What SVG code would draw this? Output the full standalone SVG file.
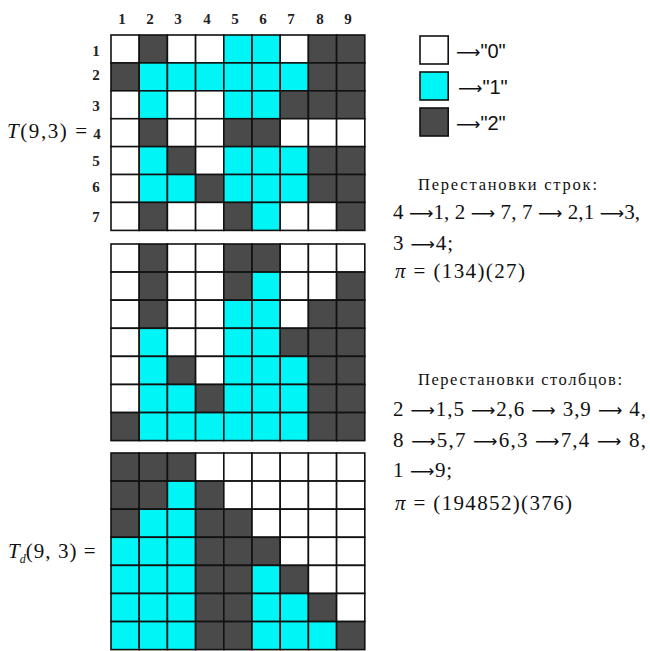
<svg xmlns="http://www.w3.org/2000/svg" width="650" height="651" viewBox="0 0 650 651">
<style>
rect.w,rect.c,rect.d{width:28.2px;height:28px;stroke:#111;stroke-width:1.6}
.w{fill:#fff}.c{fill:#00f6f6}.d{fill:#4a4a4a}
.lb{font-family:'Liberation Serif','Times New Roman','DejaVu Serif',serif;font-size:15px;font-weight:bold;fill:#222;text-anchor:middle}
.m{font-family:'Liberation Serif','Times New Roman','DejaVu Serif',serif;font-size:21px;fill:#111}
.h{font-family:'Liberation Serif','Times New Roman','DejaVu Serif',serif;font-size:16.5px;fill:#111}
.lg{font-family:'Liberation Sans',Arial,sans-serif;font-size:20px;fill:#111}
.ar{font-family:'DejaVu Sans',sans-serif;font-size:17px}
.box{stroke:#222;stroke-width:2}
</style>
<rect width="650" height="651" fill="#fff"/>
<g id="col-labels">
<text class="lb" x="122" y="24">1</text><text class="lb" x="150" y="24">2</text><text class="lb" x="178" y="24">3</text><text class="lb" x="207" y="24">4</text><text class="lb" x="235" y="24">5</text><text class="lb" x="263" y="24">6</text><text class="lb" x="291" y="24">7</text><text class="lb" x="320" y="24">8</text><text class="lb" x="348" y="24">9</text>
</g>
<g id="row-labels">
<text class="lb" x="96" y="56">1</text><text class="lb" x="96" y="80">2</text><text class="lb" x="96" y="111">3</text><text class="lb" x="97" y="139">4</text><text class="lb" x="96" y="166">5</text><text class="lb" x="96" y="192">6</text><text class="lb" x="96" y="222">7</text>
</g>
<text class="m" x="7" y="138" textLength="80" lengthAdjust="spacing"><tspan font-style="italic">T</tspan>(9,3) =</text>
<g id="grid1">
<g transform="translate(0,35)"><rect class="w" x="111"/><rect class="d" x="139.2"/><rect class="w" x="167.4"/><rect class="w" x="195.6"/><rect class="c" x="223.8"/><rect class="c" x="252"/><rect class="w" x="280.2"/><rect class="d" x="308.4"/><rect class="d" x="336.6"/></g>
<g transform="translate(0,62.9)"><rect class="d" x="111"/><rect class="c" x="139.2"/><rect class="c" x="167.4"/><rect class="c" x="195.6"/><rect class="c" x="223.8"/><rect class="c" x="252"/><rect class="c" x="280.2"/><rect class="d" x="308.4"/><rect class="d" x="336.6"/></g>
<g transform="translate(0,90.8)"><rect class="w" x="111"/><rect class="c" x="139.2"/><rect class="w" x="167.4"/><rect class="w" x="195.6"/><rect class="c" x="223.8"/><rect class="c" x="252"/><rect class="d" x="280.2"/><rect class="d" x="308.4"/><rect class="d" x="336.6"/></g>
<g transform="translate(0,118.7)"><rect class="w" x="111"/><rect class="d" x="139.2"/><rect class="w" x="167.4"/><rect class="w" x="195.6"/><rect class="d" x="223.8"/><rect class="d" x="252"/><rect class="w" x="280.2"/><rect class="w" x="308.4"/><rect class="w" x="336.6"/></g>
<g transform="translate(0,146.6)"><rect class="w" x="111"/><rect class="c" x="139.2"/><rect class="d" x="167.4"/><rect class="w" x="195.6"/><rect class="c" x="223.8"/><rect class="c" x="252"/><rect class="c" x="280.2"/><rect class="d" x="308.4"/><rect class="d" x="336.6"/></g>
<g transform="translate(0,174.5)"><rect class="w" x="111"/><rect class="c" x="139.2"/><rect class="c" x="167.4"/><rect class="d" x="195.6"/><rect class="c" x="223.8"/><rect class="c" x="252"/><rect class="c" x="280.2"/><rect class="d" x="308.4"/><rect class="d" x="336.6"/></g>
<g transform="translate(0,202.4)"><rect class="w" x="111"/><rect class="d" x="139.2"/><rect class="w" x="167.4"/><rect class="w" x="195.6"/><rect class="d" x="223.8"/><rect class="c" x="252"/><rect class="w" x="280.2"/><rect class="w" x="308.4"/><rect class="d" x="336.6"/></g>
</g>
<g id="grid2">
<g transform="translate(0,244)"><rect class="w" x="111"/><rect class="d" x="139.2"/><rect class="w" x="167.4"/><rect class="w" x="195.6"/><rect class="d" x="223.8"/><rect class="d" x="252"/><rect class="w" x="280.2"/><rect class="w" x="308.4"/><rect class="w" x="336.6"/></g>
<g transform="translate(0,272.1)"><rect class="w" x="111"/><rect class="d" x="139.2"/><rect class="w" x="167.4"/><rect class="w" x="195.6"/><rect class="d" x="223.8"/><rect class="c" x="252"/><rect class="w" x="280.2"/><rect class="w" x="308.4"/><rect class="d" x="336.6"/></g>
<g transform="translate(0,300.2)"><rect class="w" x="111"/><rect class="d" x="139.2"/><rect class="w" x="167.4"/><rect class="w" x="195.6"/><rect class="c" x="223.8"/><rect class="c" x="252"/><rect class="w" x="280.2"/><rect class="d" x="308.4"/><rect class="d" x="336.6"/></g>
<g transform="translate(0,328.3)"><rect class="w" x="111"/><rect class="c" x="139.2"/><rect class="w" x="167.4"/><rect class="w" x="195.6"/><rect class="c" x="223.8"/><rect class="c" x="252"/><rect class="d" x="280.2"/><rect class="d" x="308.4"/><rect class="d" x="336.6"/></g>
<g transform="translate(0,356.4)"><rect class="w" x="111"/><rect class="c" x="139.2"/><rect class="d" x="167.4"/><rect class="w" x="195.6"/><rect class="c" x="223.8"/><rect class="c" x="252"/><rect class="c" x="280.2"/><rect class="d" x="308.4"/><rect class="d" x="336.6"/></g>
<g transform="translate(0,384.5)"><rect class="w" x="111"/><rect class="c" x="139.2"/><rect class="c" x="167.4"/><rect class="d" x="195.6"/><rect class="c" x="223.8"/><rect class="c" x="252"/><rect class="c" x="280.2"/><rect class="d" x="308.4"/><rect class="d" x="336.6"/></g>
<g transform="translate(0,412.6)"><rect class="d" x="111"/><rect class="c" x="139.2"/><rect class="c" x="167.4"/><rect class="c" x="195.6"/><rect class="c" x="223.8"/><rect class="c" x="252"/><rect class="c" x="280.2"/><rect class="d" x="308.4"/><rect class="d" x="336.6"/></g>
</g>
<g id="grid3">
<g transform="translate(0,453)"><rect class="d" x="111"/><rect class="d" x="139.2"/><rect class="d" x="167.4"/><rect class="w" x="195.6"/><rect class="w" x="223.8"/><rect class="w" x="252"/><rect class="w" x="280.2"/><rect class="w" x="308.4"/><rect class="w" x="336.6"/></g>
<g transform="translate(0,481.1)"><rect class="d" x="111"/><rect class="d" x="139.2"/><rect class="c" x="167.4"/><rect class="d" x="195.6"/><rect class="w" x="223.8"/><rect class="w" x="252"/><rect class="w" x="280.2"/><rect class="w" x="308.4"/><rect class="w" x="336.6"/></g>
<g transform="translate(0,509.2)"><rect class="d" x="111"/><rect class="c" x="139.2"/><rect class="c" x="167.4"/><rect class="d" x="195.6"/><rect class="d" x="223.8"/><rect class="w" x="252"/><rect class="w" x="280.2"/><rect class="w" x="308.4"/><rect class="w" x="336.6"/></g>
<g transform="translate(0,537.3)"><rect class="c" x="111"/><rect class="c" x="139.2"/><rect class="c" x="167.4"/><rect class="d" x="195.6"/><rect class="d" x="223.8"/><rect class="d" x="252"/><rect class="w" x="280.2"/><rect class="w" x="308.4"/><rect class="w" x="336.6"/></g>
<g transform="translate(0,565.4)"><rect class="c" x="111"/><rect class="c" x="139.2"/><rect class="c" x="167.4"/><rect class="d" x="195.6"/><rect class="d" x="223.8"/><rect class="c" x="252"/><rect class="d" x="280.2"/><rect class="w" x="308.4"/><rect class="w" x="336.6"/></g>
<g transform="translate(0,593.5)"><rect class="c" x="111"/><rect class="c" x="139.2"/><rect class="c" x="167.4"/><rect class="d" x="195.6"/><rect class="d" x="223.8"/><rect class="c" x="252"/><rect class="c" x="280.2"/><rect class="d" x="308.4"/><rect class="w" x="336.6"/></g>
<g transform="translate(0,621.6)"><rect class="c" x="111"/><rect class="c" x="139.2"/><rect class="c" x="167.4"/><rect class="d" x="195.6"/><rect class="d" x="223.8"/><rect class="c" x="252"/><rect class="c" x="280.2"/><rect class="c" x="308.4"/><rect class="d" x="336.6"/></g>
</g>
<text class="m" x="8" y="558"><tspan font-style="italic">T</tspan><tspan font-size="12" dy="5" font-style="italic">d</tspan><tspan dy="-5" textLength="70" lengthAdjust="spacing">(9, 3) =</tspan></text>
<g id="legend">
<rect class="box w" x="420" y="36" width="29" height="28"/>
<rect class="box c" x="420" y="72" width="29" height="28"/>
<rect class="box d" x="420" y="108" width="29" height="28"/>
<text class="lg" x="456" y="58"><tspan class="ar" font-size="19">⟶</tspan>"0"</text>
<text class="lg" x="458" y="94"><tspan class="ar" font-size="19">⟶</tspan>"1"</text>
<text class="lg" x="456" y="130"><tspan class="ar" font-size="19">⟶</tspan>"2"</text>
</g>
<g id="rows-text">
<text class="h" x="418" y="190" textLength="179" lengthAdjust="spacing">Перестановки строк:</text>
<text class="m" x="393" y="219" textLength="247" lengthAdjust="spacing">4 <tspan class="ar">⟶</tspan>1, 2 <tspan class="ar">⟶</tspan> 7, 7 <tspan class="ar">⟶</tspan> 2,1 <tspan class="ar">⟶</tspan>3,</text>
<text class="m" x="393" y="250" textLength="60" lengthAdjust="spacing">3 <tspan class="ar">⟶</tspan>4;</text>
<text class="m" x="395" y="278" font-size="22" textLength="130" lengthAdjust="spacing"><tspan font-style="italic">π</tspan> = (134)(27)</text>
</g>
<g id="cols-text">
<text class="h" x="418" y="385" textLength="204" lengthAdjust="spacing">Перестановки столбцов:</text>
<text class="m" x="393" y="416" textLength="253" lengthAdjust="spacing">2 <tspan class="ar">⟶</tspan>1,5 <tspan class="ar">⟶</tspan>2,6 <tspan class="ar">⟶</tspan> 3,9 <tspan class="ar">⟶</tspan> 4,</text>
<text class="m" x="393" y="447" textLength="253" lengthAdjust="spacing">8 <tspan class="ar">⟶</tspan>5,7 <tspan class="ar">⟶</tspan>6,3 <tspan class="ar">⟶</tspan>7,4 <tspan class="ar">⟶</tspan> 8,</text>
<text class="m" x="393" y="477" textLength="59" lengthAdjust="spacing">1 <tspan class="ar">⟶</tspan>9;</text>
<text class="m" x="395" y="510" font-size="22" textLength="177" lengthAdjust="spacing"><tspan font-style="italic">π</tspan> = (194852)(376)</text>
</g>
</svg>
